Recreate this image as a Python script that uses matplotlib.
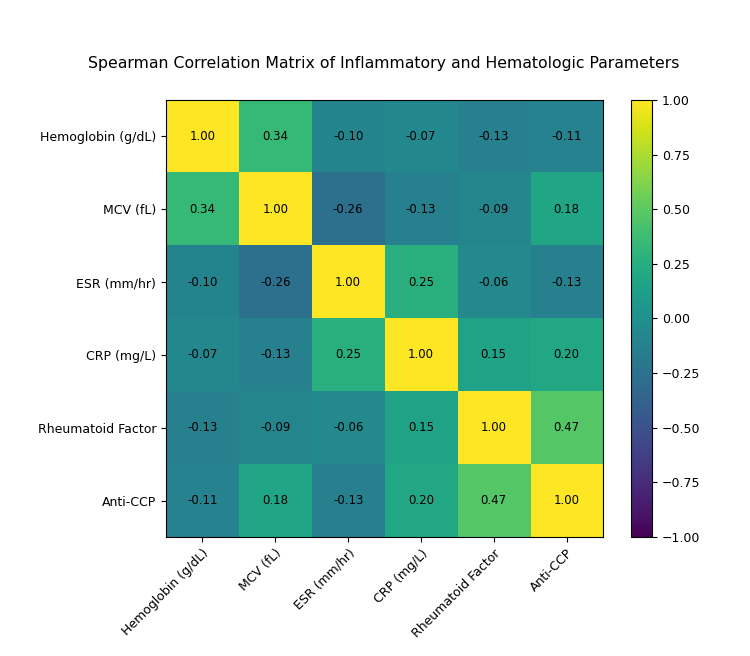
import matplotlib
matplotlib.use("Agg")
import matplotlib.pyplot as plt
import numpy as np

labels = ["Hemoglobin (g/dL)", "MCV (fL)", "ESR (mm/hr)", "CRP (mg/L)", "Rheumatoid Factor", "Anti-CCP"]
corr = np.array([
    [1.00, 0.34, -0.10, -0.07, -0.13, -0.11],
    [0.34, 1.00, -0.26, -0.13, -0.09, 0.18],
    [-0.10, -0.26, 1.00, 0.25, -0.06, -0.13],
    [-0.07, -0.13, 0.25, 1.00, 0.15, 0.20],
    [-0.13, -0.09, -0.06, 0.15, 1.00, 0.47],
    [-0.11, 0.18, -0.13, 0.20, 0.47, 1.00],
])

fig = plt.figure(figsize=(7.5, 6.56), dpi=100)
ax = fig.add_axes([0.2213, 0.1814, 0.5827, 0.6662])
cax = fig.add_axes([0.8413, 0.1814, 0.028, 0.6662])

im = ax.imshow(corr, cmap="viridis", vmin=-1, vmax=1, aspect="auto")
cb = fig.colorbar(im, cax=cax)
cb.set_ticks(np.arange(-1, 1.01, 0.25))
cb.ax.tick_params(labelsize=9)

ax.set_xticks(range(len(labels)))
ax.set_yticks(range(len(labels)))
ax.set_xticklabels(labels, rotation=45, ha="right", rotation_mode="anchor", fontsize=9)
ax.set_yticklabels(labels, fontsize=9)

for i in range(len(labels)):
    for j in range(len(labels)):
        ax.text(j, i, f"{corr[i, j]:.2f}", ha="center", va="center", color="black", fontsize=8.5)

fig.suptitle("Spearman Correlation Matrix of Inflammatory and Hematologic Parameters", fontsize=11.3, y=0.915, x=0.512)

fig.savefig("out.png", dpi=100)
